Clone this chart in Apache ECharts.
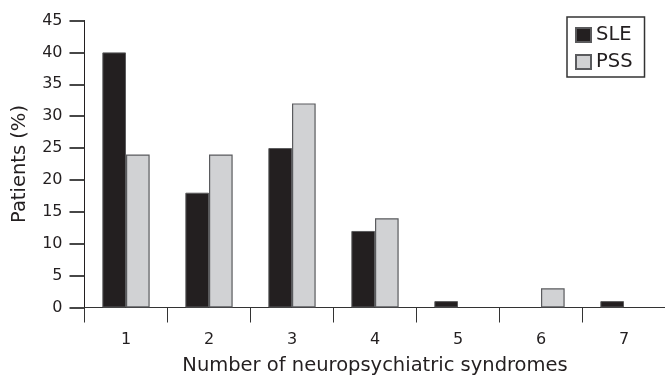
<!DOCTYPE html>
<html>
<head>
<meta charset="utf-8">
<script src="https://cdn.jsdelivr.net/npm/echarts@6/dist/echarts.min.js"></script>
<style>html,body{margin:0;padding:0;background:#fff;}#c{width:665px;height:376px;}</style>
</head>
<body>
<div id="c"></div>
<script>
const categories = ['1', '2', '3', '4', '5', '6', '7'];
const sleValues = [40, 18, 25, 12, 1, 0, 1];
const pssValues = [24, 24, 32, 14, 0, 3, 0];
const yTicks = { min: 0, max: 45, interval: 5 };
const xAxisTitle = 'Number of neuropsychiatric syndromes';
const yAxisTitle = 'Patients (%)';

const FONT = '"DejaVu Sans", sans-serif';
const TXT = '#231f20';
function toItems(arr) {
  return arr.map(v => v === 0 ? { value: v, itemStyle: { borderWidth: 0 } } : v);
}
const chart = echarts.init(document.getElementById('c'), null, { renderer: 'canvas' });
chart.setOption({
  animation: false,
  backgroundColor: '#fff',
  textStyle: { fontFamily: FONT, color: TXT },
  grid: { left: 84.5, top: 20.5, width: 581, height: 287, containLabel: false, outerBoundsMode: 'none' },
  legend: {
    orient: 'vertical',
    left: 567, top: 17,
    padding: [8, 12, 5, 8],
    itemWidth: 15, itemHeight: 14, itemGap: 7,
    icon: 'rect',
    borderColor: '#333', borderWidth: 1.5,
    textStyle: { fontFamily: FONT, fontSize: 19.5, color: TXT, lineHeight: 20 },
    data: ['SLE', 'PSS']
  },
  xAxis: {
    type: 'category',
    data: categories,
    boundaryGap: true,
    axisLine: { lineStyle: { color: '#333', width: 1 } },
    axisTick: { show: true, length: 15, inside: false, lineStyle: { color: '#333', width: 1 } },
    axisLabel: { fontFamily: FONT, fontSize: 16, color: TXT, margin: 24 },
    name: xAxisTitle,
    nameLocation: 'middle',
    nameGap: 48,
    nameTextStyle: { fontFamily: FONT, fontSize: 19.5, color: TXT }
  },
  yAxis: {
    type: 'value',
    position: 'left',
    min: yTicks.min, max: yTicks.max, interval: yTicks.interval,
    axisLine: { show: true, onZero: false, lineStyle: { color: '#231f20', width: 1 } },
    axisTick: { show: true, length: 15, inside: false, lineStyle: { color: '#333', width: 1.8 } },
    axisLabel: { fontFamily: FONT, fontSize: 16, color: TXT, margin: 22 },
    splitLine: { show: false },
    name: yAxisTitle,
    nameLocation: 'middle',
    nameGap: 55,
    nameTextStyle: { fontFamily: FONT, fontSize: 19.5, color: TXT }
  },
  series: [
    {
      name: 'SLE', type: 'bar', data: toItems(sleValues),
      barGap: '0%', barCategoryGap: '43%',
      itemStyle: { color: '#231f20', borderColor: '#5a5a5c', borderWidth: 1 }
    },
    {
      name: 'PSS', type: 'bar', data: toItems(pssValues),
      barGap: '0%', barCategoryGap: '43%',
      itemStyle: { color: '#d1d2d4', borderColor: '#5a5b5e', borderWidth: 1.2 }
    }
  ]
});
</script>
</body>
</html>
